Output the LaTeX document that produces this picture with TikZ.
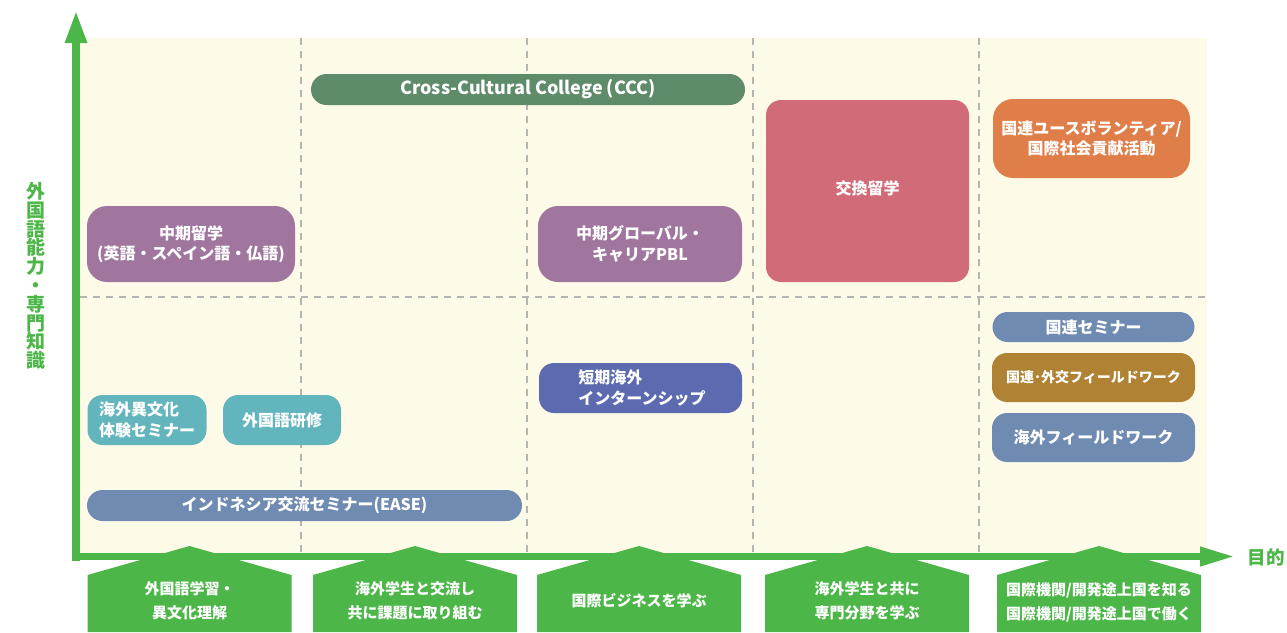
\documentclass[tikz,border=0pt]{standalone}
\usepackage{fontspec}
\setmainfont{Noto Sans CJK JP}
\usetikzlibrary{arrows.meta}
\definecolor{cGreen}{HTML}{4CB748}
\definecolor{cCream}{HTML}{FEFAE8}
\definecolor{cDash}{HTML}{B4B4B0}
\definecolor{cCCC}{HTML}{5E8B69}
\definecolor{cPurple}{HTML}{A0769F}
\definecolor{cPink}{HTML}{D16B78}
\definecolor{cOrange}{HTML}{E07E4A}
\definecolor{cSlate}{HTML}{6F8BB1}
\definecolor{cBrown}{HTML}{B08233}
\definecolor{cIndigo}{HTML}{5C6BB0}
\definecolor{cTeal}{HTML}{63B5BD}
\begin{document}
\begin{tikzpicture}[x=1pt,y=-1pt,
  box/.style={text=white, font=\bfseries\fontsize{16}{20.5}\selectfont, align=center, inner sep=0pt},
  lbox/.style={box, align=left},
  grid/.style={draw=cDash, line width=1.4pt, dash pattern=on 7pt off 6pt},
  pent/.style={fill=cGreen},
  ptext/.style={text=white, font=\bfseries\fontsize{15}{24}\selectfont, align=center, inner sep=0pt},
  axis/.style={draw=cGreen}
]
\useasboundingbox (0,0) rectangle (1287,632);
% panel
\fill[cCream] (80,38) rectangle (1207,553);
% grid
\foreach \gx in {301,527,753,979} {\draw[grid] (\gx,38) -- (\gx,553);}
\draw[grid] (80,297) -- (1207,297);

% boxes
\node[box, fill=cCCC, minimum width=434pt, minimum height=31pt, rounded corners=15.5pt, font=\bfseries\fontsize{18}{20}\selectfont] (ccc) at (528,89.5) {Cross-Cultural College (CCC)};
\node[box, fill=cPurple, minimum width=208pt, minimum height=76pt, rounded corners=20pt] (mid) at (191,244) {中期留学\\(英語・スペイン語・仏語)};
\node[box, fill=cPurple, minimum width=204pt, minimum height=76pt, rounded corners=20pt] (pbl) at (640,244) {中期グローバル・\\キャリアPBL};
\node[box, fill=cPink, minimum width=203pt, minimum height=182pt, rounded corners=15pt] (exch) at (867.5,191) {};
\node[box] (exchT) at (867.5,188) {交換留学};
\node[box, fill=cOrange, minimum width=197pt, minimum height=79pt, rounded corners=20pt] (un) at (1091.5,138.5) {国連ユースボランティア/\\国際社会貢献活動};
\node[box, fill=cSlate, minimum width=202pt, minimum height=30pt, rounded corners=15pt] (uns) at (1093.5,327) {国連セミナー};
\node[box, fill=cBrown, minimum width=203pt, minimum height=49pt, rounded corners=15pt, font=\bfseries\fontsize{14}{16}\selectfont] (unf) at (1093.5,377.5) {国連･外交フィールドワーク};
\node[box, fill=cSlate, minimum width=203pt, minimum height=49pt, rounded corners=15pt] (ovf) at (1093.5,437.5) {海外フィールドワーク};
\node[lbox, fill=cIndigo, minimum width=203pt, minimum height=50pt, rounded corners=15pt] (intern) at (640.5,388) {};
\node[lbox] (internT) at (642,388) {短期海外\\インターンシップ};
\node[lbox, fill=cTeal, minimum width=119pt, minimum height=50pt, rounded corners=15pt] (ibunka) at (147,420) {};
\node[lbox] (ibunkaT) at (147,420) {海外異文化\\体験セミナー};
\node[box, fill=cTeal, minimum width=118pt, minimum height=50pt, rounded corners=15pt] (kenshu) at (282,420) {外国語研修};
\node[box, fill=cSlate, minimum width=435pt, minimum height=31pt, rounded corners=15.5pt] (ease) at (304.5,505.5) {インドネシア交流セミナー(EASE)};

% pentagons
\foreach \c in {189.5,415,639,867,1099} {
  \fill[pent] (\c-102,632) -- (\c-102,575) -- (\c,546) -- (\c+102,575) -- (\c+102,632) -- cycle;
}
\node[ptext] (g1) at (189.5,601) {外国語学習・\\異文化理解};
\node[ptext] (g2) at (415,601) {海外学生と交流し\\共に課題に取り組む};
\node[ptext] (g3) at (639,601) {国際ビジネスを学ぶ};
\node[ptext] (g4) at (867,601) {海外学生と共に\\専門分野を学ぶ};
\node[ptext] (g5) at (1099,602) {国際機関/開発途上国を知る\\国際機関/開発途上国で働く};

% axes
\coordinate (o) at (76,560.5);
\coordinate (ytop) at (76,10);
\coordinate (xl) at (72,556.5);
\coordinate (xr) at (1235,556.5);
\draw[axis, line width=8pt, -{Triangle[length=33pt,width=20pt]}] (o) -- (ytop);
\draw[axis, line width=7pt, -{Triangle[length=35pt,width=18pt]}] (xl) -- (xr);

% axis labels
\node[text=cGreen, font=\bfseries\fontsize{19}{18.8}\selectfont, align=center, inner sep=0pt] (ylab) at (36,276) {外\\国\\語\\能\\力\\・\\専\\門\\知\\識};
\node[text=cGreen, font=\bfseries\fontsize{18.5}{20}\selectfont, inner sep=0pt] (xlab) at (1266,557) {目的};
\end{tikzpicture}
\end{document}
